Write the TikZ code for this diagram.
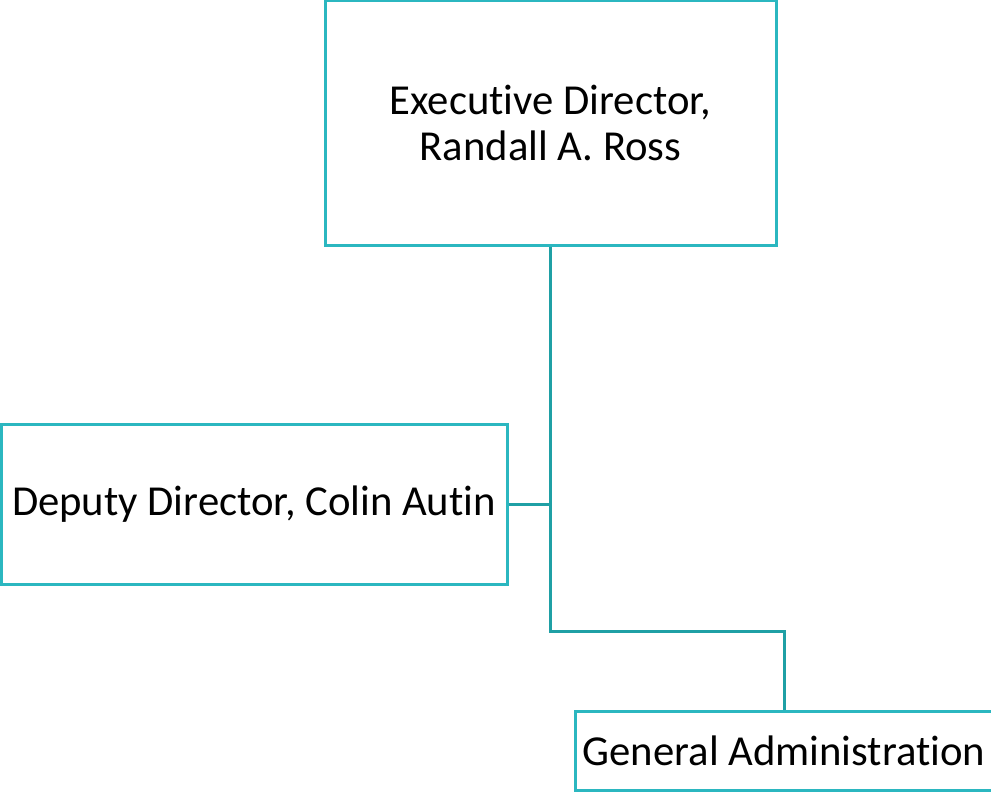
\documentclass[tikz,border=0pt]{standalone}
\usepackage{fontspec}
\setmainfont[Ligatures={NoCommon}]{Carlito}
\definecolor{boxc}{RGB}{43,183,192}
\definecolor{linec}{RGB}{31,160,165}
\begin{document}
\begin{tikzpicture}[x=1pt,y=-1pt,
  orgbox/.style={draw=boxc, line width=3pt, fill=white, inner sep=0pt, align=center,
    font=\fontsize{42.7}{46}\selectfont, text=black},
  link/.style={draw=linec, line width=3pt}]
\useasboundingbox (0,0) rectangle (991,792);
\clip (0,0) rectangle (991,792);
\node[orgbox, minimum width=451pt, minimum height=244pt] (exec) at (550.5,123) {Executive Director,\\Randall A. Ross};
\node[orgbox, minimum width=506pt, minimum height=160pt] (dep) at (254,504) {Deputy Director, Colin Autin};
\node[orgbox, minimum width=418pt, minimum height=79pt] (gen) at (784,750.5) {General Administration};
\coordinate (elbow) at (550.5,631);
\draw[link] (exec.south) -- (elbow) -| (gen.north);
\draw[link] (dep.east) -- (dep.east -| exec.south);
\end{tikzpicture}
\end{document}
